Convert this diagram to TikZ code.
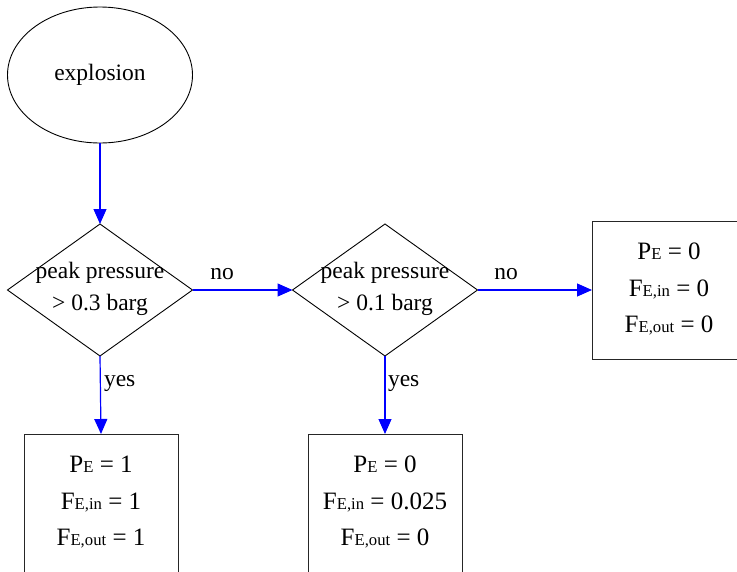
\documentclass[tikz,border=0pt]{standalone}
\usepackage{fontspec}
\setmainfont{Liberation Serif}
\usetikzlibrary{shapes.geometric,arrows.meta}
\newcommand\subsm[1]{{\fontsize{16.7pt}{18pt}\selectfont #1}}
\tikzset{
  txt/.style={font=\fontsize{23.5pt}{28pt}\selectfont, inner sep=0pt, outer sep=0pt},
  btxt/.style={font=\fontsize{25pt}{30pt}\selectfont, inner sep=0pt, outer sep=0pt, anchor=base},
  ell/.style={draw=black, line width=0.9pt, ellipse, minimum width=185pt, minimum height=136pt, inner sep=0pt, outer sep=0pt},
  dia/.style={draw=black, line width=0.9pt, diamond, minimum width=185pt, minimum height=132pt, inner sep=0pt, outer sep=0pt},
  res/.style={draw=black!85, line width=0.9pt, rectangle, minimum width=154pt, minimum height=138pt, inner sep=0pt, outer sep=0pt},
  arr/.style={draw={rgb,255:red,0;green,0;blue,255}, line width=1.2pt, -{Triangle[length=15pt,width=13pt]}, fill={rgb,255:red,0;green,0;blue,255}}
}
\begin{document}
\begin{tikzpicture}[x=1pt,y=-1pt]
\useasboundingbox (0,0) rectangle (737,571);
\clip (0,0) rectangle (737,571);
% nodes
\node[ell] (e) at (100,75) {};
\node[txt] (et) at (e.center) {explosion};
\node[dia] (d1) at (100,290) {};
\node[txt,anchor=base] (d1a) at (100,278) {peak pressure};
\node[txt,anchor=base] (d1b) at (100,310) {> 0.3 barg};
\node[dia] (d2) at (385,290) {};
\node[txt,anchor=base] (d2a) at (385,278) {peak pressure};
\node[txt,anchor=base] (d2b) at (385,310) {> 0.1 barg};
\node[res] (r1) at (101,503) {};
\node[res] (r2) at (385,503) {};
\node[res] (r3) at (669,290) {};
% result texts
\node[btxt] (r1a) at ([yshift=31pt]r1.center) {P\subsm{E} = 1};
\node[btxt] (r1b) at ([yshift=-6pt]r1.center) {F\subsm{E,in} = 1};
\node[btxt] (r1c) at ([yshift=-42pt]r1.center) {F\subsm{E,out} = 1};
\node[btxt] (r2a) at ([yshift=31pt]r2.center) {P\subsm{E} = 0};
\node[btxt] (r2b) at ([yshift=-6pt]r2.center) {F\subsm{E,in} = 0.025};
\node[btxt] (r2c) at ([yshift=-42pt]r2.center) {F\subsm{E,out} = 0};
\node[btxt] (r3a) at ([yshift=31pt]r3.center) {P\subsm{E} = 0};
\node[btxt] (r3b) at ([yshift=-6pt]r3.center) {F\subsm{E,in} = 0};
\node[btxt] (r3c) at ([yshift=-42pt]r3.center) {F\subsm{E,out} = 0};
% connectors
\draw[arr] (e) -- (d1);
\draw[arr] (d1.east) -- (d2.west);
\draw[arr] (d2.east) -- (r3.west);
\draw[arr] (d1.south) -- (r1.north);
\draw[arr] (d2.south) -- (r2.north);
% labels
\node[txt,anchor=base] (l1) at (222,279) {no};
\node[txt,anchor=base] (l2) at (506,279) {no};
\node[txt,anchor=base west] (l3) at (104,386) {yes};
\node[txt,anchor=base west] (l4) at (388,386) {yes};
\end{tikzpicture}
\end{document}
